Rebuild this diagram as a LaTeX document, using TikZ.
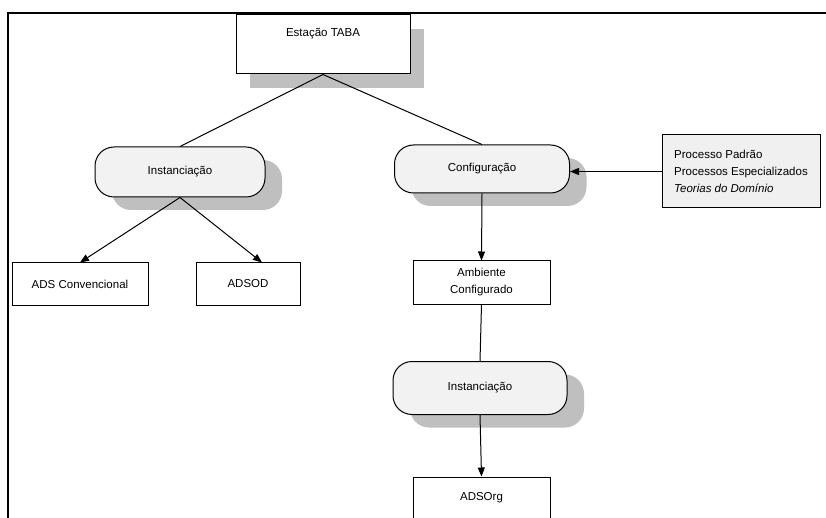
\documentclass[tikz,border=0pt]{standalone}
\usepackage{fontspec}
\setmainfont{Liberation Sans}
\usetikzlibrary{arrows.meta,shadows}

\tikzset{
    plainbox/.style={draw,line width=1pt,fill=white,inner sep=3pt,
        minimum width=137pt,minimum height=42pt,align=center},
    shadowbox/.style={plainbox,
        drop shadow={shadow xshift=14pt,shadow yshift=-14pt,fill=gray!50,opacity=1}},
    pill/.style={draw,line width=1pt,fill=gray!10,rounded corners=19pt,
        minimum width=174pt,minimum height=50pt,
        drop shadow={shadow xshift=17pt,shadow yshift=-13pt,fill=gray!50,opacity=1}},
    infobox/.style={draw,line width=1pt,fill=gray!12,inner sep=4pt,
        minimum width=158pt,minimum height=73pt,align=left},
    link/.style={line width=1pt},
    flow/.style={line width=1pt,->}
}

\begin{document}
\begin{tikzpicture}[x=1pt,y=-1pt,>={Triangle[length=9pt,width=7pt]},
        font=\fontsize{11.5}{17}\selectfont]
        % --- 1. Page and Frame ---
        \clip (0,0) rectangle (826,518);
        \fill[white] (0,0) rectangle (826,518);
        \draw[line width=1.2pt] (8,518) -- (8,13) -- (826,13);

        % --- 2. Top Level ---
        \node[shadowbox,minimum width=174pt,inner ysep=0pt,
            text height=22pt,text depth=37pt,anchor=base] (Taba) at (323,37) {Estação TABA};

        % --- 3. Activities ---
        \node[pill,minimum width=170pt] (Inst1) at (180,172) {Instanciação};
        \node[pill,minimum width=175pt,minimum height=48pt] (Config) at (482,169) {Configuração};
        \node[pill,minimum height=53pt] (Inst2) at (480,388) {Instanciação};

        % Inputs of the configuration
        \node[infobox] (Proc) at (741,171.5) {Processo Padrão\\Processos Especializados\\\textit{Teorias do Domínio}};

        % --- 4. Results ---
        \node[plainbox,minimum width=136pt] (AdsConv) at (80,284) {ADS Convencional};
        \node[plainbox,minimum width=104pt] (Adsod) at (248,284) {ADSOD};
        \node[plainbox,minimum height=43pt] (Amb) at (481.5,282.5) {Ambiente\\Configurado};
        \node[plainbox] (Adsorg) at (481.5,498) {ADSOrg};

        % --- 5. Connectors ---
        \draw[link] (Taba.south) -- (Inst1.north);
        \draw[link] (Taba.south) -- (Config.north);
        \draw[flow] (Inst1.south) -- (AdsConv.north);
        \draw[flow] (Inst1.south) -- ([xshift=14pt]Adsod.north);
        \draw[flow] (Proc.west) -- (Proc.west -| Config.east);
        \draw[flow] (Config.south) -- (Amb.north);
        \draw[link] (Amb.south) -- (Inst2.north);
        \draw[flow] (Inst2.south) -- (Adsorg.north);
    \end{tikzpicture}
\end{document}
